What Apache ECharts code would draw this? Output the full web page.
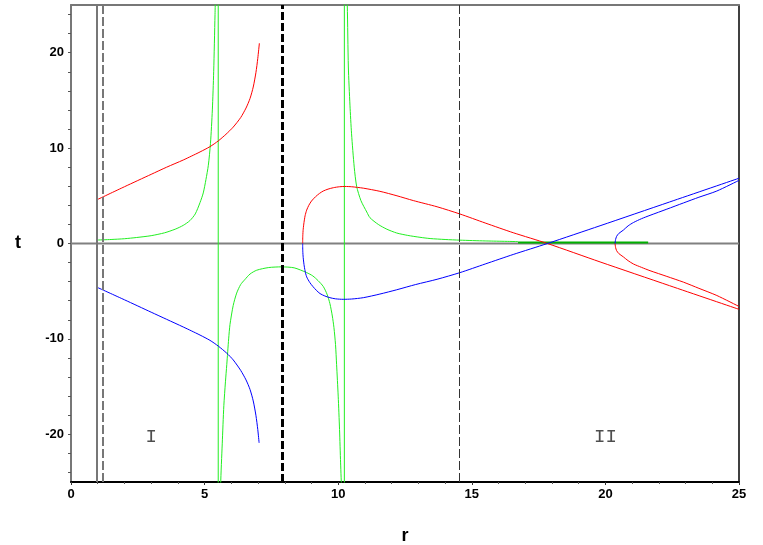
<!DOCTYPE html>
<html><head><meta charset="utf-8">
<script src="https://cdn.jsdelivr.net/npm/echarts@6/dist/echarts.min.js"></script>
<style>html,body{margin:0;padding:0;background:#fff}#c{width:763px;height:545px}</style>
</head><body><div id="c"></div>
<script>
// ---- data ----
const xTickLabels = [0, 5, 10, 15, 20, 25];
const yTickLabels = [-20, -10, 0, 10, 20];
const yMinorTicks = [-24,-22,-20,-18,-16,-14,-12,-10,-8,-6,-4,-2,0,2,4,6,8,10,12,14,16,18,20,22,24];

const red1 = [[0.96,4.57],[2.0,5.95],[3.0,7.25],[3.58,8.0],[4.2,8.75],[4.5,9.15],[4.83,9.6],[5.2,10.15],[5.51,10.75],[5.8,11.45],[6.07,12.2],[6.35,13.2],[6.55,14.2],[6.7,15.2],[6.82,16.4],[6.92,17.9],[6.99,19.4],[7.05,21.0]];
const blue1 = [[0.96,-4.57],[2.0,-5.9],[3.0,-7.2],[3.58,-7.95],[4.2,-8.75],[4.5,-9.15],[4.83,-9.6],[5.2,-10.15],[5.51,-10.75],[5.83,-11.5],[6.07,-12.2],[6.35,-13.3],[6.55,-14.3],[6.7,-15.3],[6.82,-16.5],[6.92,-18.0],[6.99,-19.5],[7.04,-20.9]];
const red2 = [[8.67,0],[8.675,0.8],[8.69,1.5],[8.72,2.2],[8.76,2.9],[8.82,3.5],[8.9,4.0],[9.0,4.45],[9.15,4.9],[9.3,5.25],[9.44,5.5],[9.62,5.7],[9.82,5.85],[10.05,5.95],[10.25,5.98],[10.5,5.95],[10.94,5.8],[11.56,5.47],[12.2,5.0],[12.81,4.5],[13.7,3.85],[14.56,3.09],[15.5,2.15],[16.55,1.13],[17.83,0],[19.8,-1.93],[22.4,-4.42],[25,-6.9]];
const blue2 = [[8.67,0],[8.675,-0.8],[8.69,-1.47],[8.72,-2.2],[8.76,-2.87],[8.82,-3.5],[8.94,-4.1],[9.05,-4.5],[9.18,-4.9],[9.32,-5.25],[9.5,-5.5],[9.69,-5.68],[9.9,-5.8],[10.19,-5.85],[10.5,-5.82],[10.94,-5.68],[11.56,-5.3],[12.19,-4.85],[12.9,-4.3],[13.7,-3.75],[14.56,-3.05],[15.5,-2.15],[16.55,-1.15],[17.83,0],[19.8,1.86],[22.4,4.35],[25,6.84]];
const red3 = [[20.36,0],[20.38,-0.4],[20.42,-0.75],[20.5,-1.05],[20.67,-1.4],[20.85,-1.8],[21.05,-2.15],[21.35,-2.5],[21.67,-2.85],[22.3,-3.45],[22.92,-4.05],[23.5,-4.7],[24.17,-5.45],[25,-6.6]];
const blue3 = [[20.36,0],[20.38,0.4],[20.42,0.75],[20.5,1.05],[20.67,1.4],[20.85,1.85],[21.05,2.2],[21.35,2.6],[21.67,2.95],[22.3,3.6],[22.92,4.25],[23.5,4.85],[24.17,5.5],[25,6.62]];
const greenA = [[0.96,0.36],[1.5,0.42],[2.0,0.5],[2.46,0.63],[3.0,0.82],[3.5,1.12],[3.9,1.5],[4.2,1.9],[4.45,2.4],[4.65,3.1],[4.83,4.3],[4.95,5.3],[5.05,6.7],[5.14,8.2],[5.22,10.5],[5.29,14],[5.34,18],[5.39,24],[5.42,28]];
const greenB = [[5.59,-28],[5.60,-25.3],[5.66,-21],[5.72,-17],[5.78,-14.5],[5.83,-12.7],[5.9,-10],[5.95,-8.5],[6.07,-6.5],[6.2,-5.2],[6.35,-4.3],[6.5,-3.8],[6.7,-3.2],[6.95,-2.8],[7.4,-2.52],[7.88,-2.45],[8.35,-2.55],[8.82,-3.05],[9.05,-3.4],[9.25,-3.9],[9.44,-4.5],[9.58,-5.3],[9.69,-6.3],[9.78,-7.6],[9.84,-8.8],[9.9,-10.6],[9.94,-12.7],[10.0,-16],[10.05,-19.5],[10.09,-23],[10.13,-26],[10.17,-28]];
const greenC = [[10.3,28],[10.34,25],[10.38,18.5],[10.44,14.5],[10.5,11.5],[10.6,8.0],[10.69,6.0],[10.85,4.5],[11.07,3.3],[11.19,2.7],[11.5,2.0],[11.82,1.5],[12.19,1.1],[12.6,0.85],[13.06,0.65],[13.44,0.52],[14.0,0.42],[14.56,0.35],[15.5,0.27],[16.73,0.2]];
const greenJump1 = [[5.51,30],[5.51,-30]];
const greenJump2 = [[10.23,-30],[10.23,30]];
const greenDark = [[16.73,0.1],[21.6,0.1]];
const vLines = [0.96, 1.2, 7.89, 14.54];
const regionLabels = [[3.0,-20.3,'I'],[20.0,-20.3,'II']];

// ---- chart ----
const tickFont = {fontFamily:"'Liberation Sans Narrow','Arial Narrow','Liberation Sans',sans-serif", fontWeight:'bold', fontSize:13, color:'#000'};
function curve(data, color, width, smooth) {
  return {type:'line', data:data, symbol:'none', showSymbol:false, clip:true, silent:true,
    smooth: smooth ? 0.25 : false,
    lineStyle:{color:color, width:width||1}, itemStyle:{color:color}, z:3};
}
const vStyles = [
  {color:'#777', width:2, type:'solid'},
  {color:'#777', width:2, type:[9,3]},
  {color:'#000', width:3, type:[8,3]},
  {color:'#333', width:1, type:[9,3]}
];
const G = '#22ee22', R = '#ff0000', B = '#0000ff';
const chart = echarts.init(document.getElementById('c'), null, {renderer:'canvas'});
chart.setOption({
  animation:false,
  backgroundColor:'#fff',
  grid:{left:71, right:24, top:5, bottom:63, containLabel:false, outerBoundsMode:'none'},
  xAxis:[{
    type:'value', min:0, max:25, interval:5, position:'bottom',
    name:'r', nameLocation:'middle', nameGap:45,
    nameTextStyle:{fontFamily:tickFont.fontFamily, fontWeight:'bold', fontSize:18, color:'#000'},
    axisLine:{onZero:false, lineStyle:{color:'#000', width:2}},
    axisTick:{show:true, length:3, lineStyle:{color:'#333'}},
    minorTick:{show:true, splitNumber:5, length:2, lineStyle:{color:'#555'}},
    splitLine:{show:false},
    axisLabel:Object.assign({margin:6, formatter:v=>String(v), customValues:xTickLabels}, tickFont)
  },{
    type:'value', min:0, max:25, position:'top',
    axisLine:{onZero:false, lineStyle:{color:'#777', width:2}},
    axisTick:{show:false}, axisLabel:{show:false}, splitLine:{show:false}
  }],
  yAxis:[{
    type:'value', min:-25, max:25, position:'left',
    name:'t', nameLocation:'middle', nameGap:50, nameRotate:0,
    nameTextStyle:{fontFamily:tickFont.fontFamily, fontWeight:'bold', fontSize:18, color:'#000'},
    axisLine:{onZero:false, lineStyle:{color:'#777', width:2}},
    axisTick:{show:true, length:3, customValues:yMinorTicks, lineStyle:{color:'#555'}},
    splitLine:{show:false},
    axisLabel:Object.assign({margin:7, customValues:yTickLabels}, tickFont)
  },{
    type:'value', min:-25, max:25, position:'right',
    axisLine:{onZero:false, lineStyle:{color:'#000', width:1.5}},
    axisTick:{show:false}, axisLabel:{show:false}, splitLine:{show:false}
  }],
  series:[
    {type:'line', data:[[0,0],[25,0]], symbol:'none', silent:true, z:1,
      lineStyle:{color:'#808080', width:2},
      markLine:{silent:true, symbol:['none','none'], animation:false, label:{show:false},
        data: vLines.map((v,i)=>({xAxis:v, lineStyle:vStyles[i]}))}},
    curve(greenA, G, 1, true),
    curve(greenJump1, G, 1, false),
    curve(greenB, G, 1, true),
    curve(greenJump2, G, 1, false),
    curve(greenC, G, 1, true),
    curve(greenDark, '#00b000', 2, false),
    curve(red1, R, 1, true), curve(blue1, B, 1, true),
    curve(red2, R, 1, true), curve(blue2, B, 1, true),
    curve(red3, R, 1, true), curve(blue3, B, 1, true),
    {type:'scatter', data:regionLabels, symbolSize:0, silent:true, z:5,
      label:{show:true, position:'inside', formatter:p=>p.data[2],
        fontFamily:"'Liberation Mono','DejaVu Sans Mono',monospace", fontSize:19, color:'#222'}}
  ]
});
</script></body></html>
